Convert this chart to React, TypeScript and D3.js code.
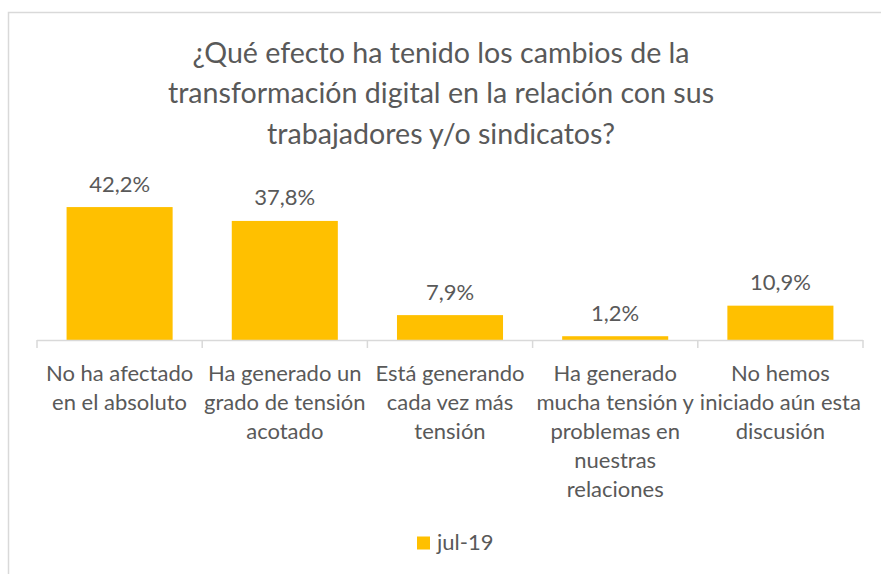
import React from "react";
import * as d3 from "d3";

const titleLines = [
  "¿Qué efecto ha tenido los cambios de la",
  "transformación digital en la relación con sus",
  "trabajadores y/o sindicatos?",
];
const categories = [
  ["No ha afectado", "en el absoluto"],
  ["Ha generado un", "grado de tensión", "acotado"],
  ["Está generando", "cada vez más", "tensión"],
  ["Ha generado", "mucha tensión y", "problemas en", "nuestras", "relaciones"],
  ["No hemos", "iniciado aún esta", "discusión"],
];
const values = [42.2, 37.8, 7.9, 1.2, 10.9];
const seriesName = "jul-19";

const W = 881;
const H = 574;
const FONT = "Lato, 'Open Sans', sans-serif";
const TEXT = "#595959";
const BAR = "#FFC000";
const AXIS = "#D9D9D9";

const locale = d3.formatLocale({ decimal: ",", thousands: ".", grouping: [3], currency: ["", "€"] });
const fmt = (v: number) => locale.format(".1f")(v) + "%";

export default function App() {
  const x = d3
    .scaleBand<number>()
    .domain(values.map((_, i) => i))
    .range([37, 863])
    .paddingInner(0.358)
    .paddingOuter(0.179);
  const y = d3.scaleLinear().domain([0, 50]).range([340, 182.5]);
  const step = x.step();
  const x0 = 37;

  return (
    <svg width={W} height={H} style={{ position: "absolute", left: 0, top: 0 }} fontFamily={FONT}>
      <rect x={8.5} y={12.5} width={W + 20} height={H + 20} fill="#fff" stroke={AXIS} strokeWidth={1.5} />
      <g fill={TEXT} fontSize={28.6} textAnchor="middle">
        {titleLines.map((t, i) => (
          <text key={i} x={441} y={62.5 + i * 40.5}>
            {t}
          </text>
        ))}
      </g>
      {values.map((v, i) => (
        <rect key={i} x={x(i)} y={y(v)} width={x.bandwidth()} height={y(0) - y(v)} fill={BAR} />
      ))}
      <g stroke={AXIS} strokeWidth={1.5}>
        <line x1={x0} x2={863} y1={340.5} y2={340.5} />
        {d3.range(values.length + 1).map((i) => (
          <line key={i} x1={x0 + i * step} x2={x0 + i * step} y1={340} y2={348} />
        ))}
      </g>
      <g fill={TEXT} fontSize={22} textAnchor="middle">
        {values.map((v, i) => (
          <text key={i} x={(x(i) ?? 0) + x.bandwidth() / 2} y={y(v) - 15.5}>
            {fmt(v)}
          </text>
        ))}
      </g>
      <g fill={TEXT} fontSize={22} textAnchor="middle">
        {categories.map((lines, i) => (
          <text key={i} x={x0 + (i + 0.5) * step}>
            {lines.map((l, j) => (
              <tspan key={j} x={x0 + (i + 0.5) * step} y={381 + j * 29}>
                {l}
              </tspan>
            ))}
          </text>
        ))}
      </g>
      <g>
        <rect x={417} y={536.5} width={13} height={13} fill={BAR} />
        <text x={437} y={550} fill={TEXT} fontSize={22}>
          {seriesName}
        </text>
      </g>
    </svg>
  );
}
